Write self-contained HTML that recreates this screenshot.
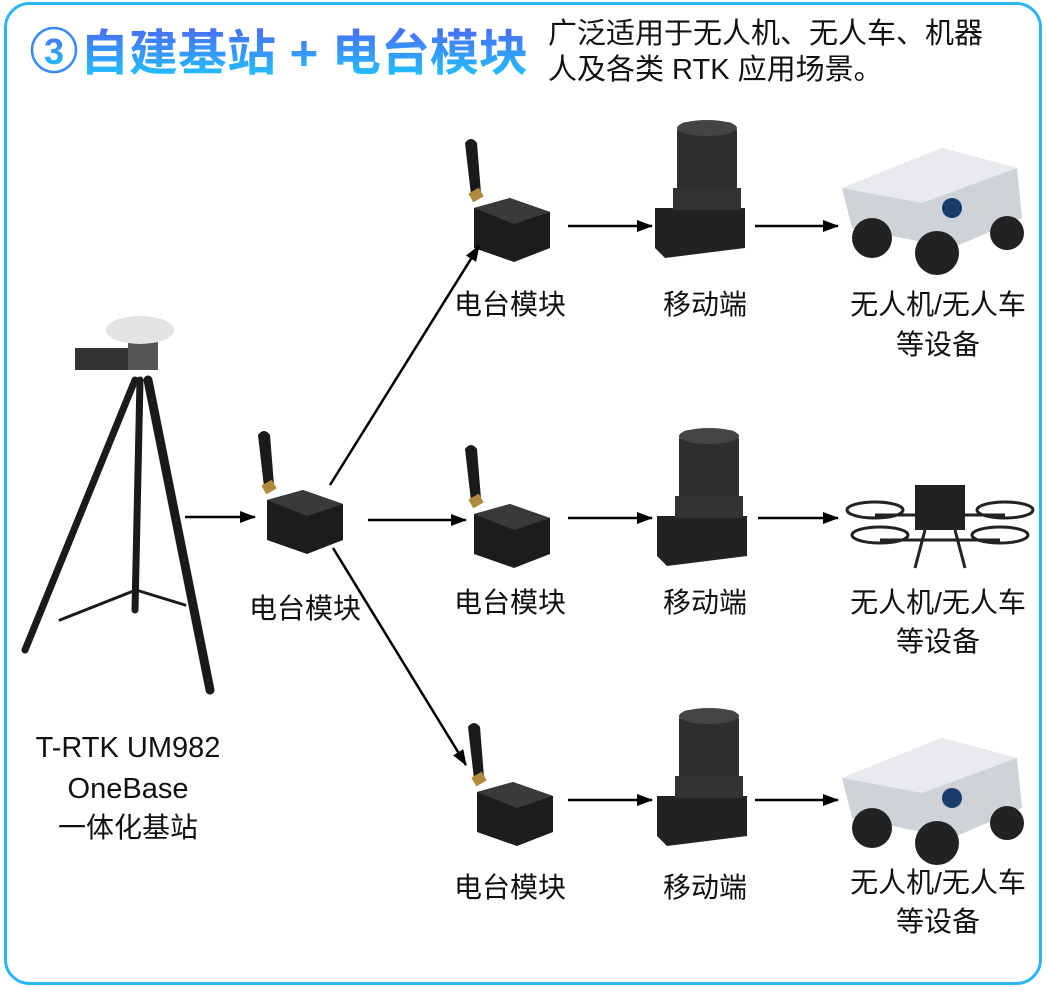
<!DOCTYPE html>
<html><head><meta charset="utf-8"><style>
html,body{margin:0;padding:0;background:#fff;}
svg{display:block;font-family:"Liberation Sans","Noto Sans CJK SC",sans-serif;}
</style></head><body>
<svg width="1046" height="987" viewBox="0 0 1046 987" xmlns="http://www.w3.org/2000/svg">
<defs>
<linearGradient id="tg" x1="0" y1="0" x2="0" y2="1"><stop offset="0" stop-color="#4a6cf7"/><stop offset="1" stop-color="#1ec8ff"/></linearGradient>
<marker id="a" markerWidth="16" markerHeight="12" refX="15" refY="6" orient="auto" markerUnits="userSpaceOnUse"><path d="M0,0 L16,6 L0,12 Z" fill="#000"/></marker>
<g id="radio">
  <path d="M-5,-55 q6,-8 12,0 l4,50 -10,2 z" fill="#1a1a1a"/>
  <rect x="0" y="-8" width="12" height="10" fill="#b08a3c" transform="rotate(-30 6 -3)"/>
  <path d="M4,10 L40,0 L80,14 L80,50 L44,64 L4,50 Z" fill="#1c1c1c"/>
  <path d="M4,10 L40,0 L80,14 L44,26 Z" fill="#3a3a3a"/>
</g>
<g id="mobile">
  <rect x="22" y="0" width="60" height="90" rx="10" fill="#2e2e2e"/>
  <ellipse cx="52" cy="6" rx="30" ry="8" fill="#444"/>
  <path d="M0,86 L90,86 L90,126 L10,136 L0,126 Z" fill="#222"/>
  <rect x="18" y="66" width="68" height="22" fill="#333"/>
</g>
<g id="robot">
  <path d="M0,40 L100,0 L175,20 L180,70 L110,100 L10,80 Z" fill="#cfd3d8"/>
  <path d="M0,40 L100,0 L175,20 L80,55 Z" fill="#e8eaed"/>
  <circle cx="30" cy="90" r="20" fill="#222"/><circle cx="95" cy="105" r="22" fill="#222"/>
  <circle cx="165" cy="85" r="17" fill="#222"/><circle cx="110" cy="60" r="10" fill="#1a3a6a"/>
</g>
</defs>
<rect x="5.5" y="3.5" width="1035" height="980" rx="24" fill="#fff" stroke="#2bb6f3" stroke-width="3"/>
<circle cx="54" cy="50" r="22" fill="none" stroke="#3a8cf5" stroke-width="2.5"/>
<text x="54" y="64" font-size="36" font-weight="bold" text-anchor="middle" fill="url(#tg)">3</text>
<text x="80" y="70" font-size="49" font-weight="bold" fill="url(#tg)">自建基站 + 电台模块</text>
<text x="548" y="43" font-size="29" fill="#111">广泛适用于无人机、无人车、机器</text>
<text x="548" y="79" font-size="29" fill="#111">人及各类 RTK 应用场景。</text>

<g stroke="#1a1a1a" fill="none" stroke-linecap="round">
  <line x1="135" y1="380" x2="25" y2="650" stroke-width="7"/>
  <line x1="140" y1="380" x2="135" y2="610" stroke-width="7"/>
  <line x1="148" y1="380" x2="210" y2="690" stroke-width="9"/>
  <line x1="136" y1="590" x2="60" y2="620" stroke-width="3"/>
  <line x1="136" y1="590" x2="185" y2="605" stroke-width="3"/>
</g>
<rect x="75" y="348" width="80" height="22" fill="#333"/>
<rect x="128" y="330" width="30" height="40" fill="#555"/>
<ellipse cx="140" cy="330" rx="34" ry="14" fill="#e3e3e3"/>

<use href="#radio" x="263" y="490"/>
<use href="#radio" x="470" y="198"/>
<use href="#radio" x="470" y="504"/>
<use href="#radio" x="473" y="782"/>
<use href="#mobile" x="655" y="122"/>
<use href="#mobile" x="657" y="430"/>
<use href="#mobile" x="657" y="710"/>
<use href="#robot" x="842" y="148"/>
<use href="#robot" x="842" y="738"/>
<g fill="none" stroke="#222" stroke-width="3">
  <ellipse cx="875" cy="510" rx="28" ry="8"/><ellipse cx="1005" cy="510" rx="28" ry="8"/>
  <ellipse cx="880" cy="535" rx="28" ry="8"/><ellipse cx="1000" cy="535" rx="28" ry="8"/>
  <line x1="875" y1="515" x2="1005" y2="515"/><line x1="880" y1="540" x2="1000" y2="540"/>
</g>
<rect x="915" y="485" width="50" height="45" fill="#222"/>
<line x1="925" y1="530" x2="915" y2="568" stroke="#222" stroke-width="3"/><line x1="955" y1="530" x2="965" y2="568" stroke="#222" stroke-width="3"/>

<g stroke="#000" stroke-width="2.5" marker-end="url(#a)">
<line x1="185" y1="517" x2="255" y2="517"/>
<line x1="330" y1="485" x2="479" y2="246"/>
<line x1="368" y1="520" x2="466" y2="520"/>
<line x1="333" y1="548" x2="466" y2="765"/>
<line x1="568" y1="226" x2="652" y2="226"/>
<line x1="755" y1="226" x2="838" y2="226"/>
<line x1="568" y1="518" x2="652" y2="518"/>
<line x1="758" y1="518" x2="838" y2="518"/>
<line x1="568" y1="800" x2="652" y2="800"/>
<line x1="755" y1="800" x2="838" y2="800"/>
</g>

<g font-size="28" fill="#111" text-anchor="middle">
<text x="510" y="314">电台模块</text><text x="705" y="314">移动端</text>
<text x="938" y="314">无人机/无人车</text><text x="938" y="354">等设备</text>
<text x="305" y="618">电台模块</text>
<text x="510" y="612">电台模块</text><text x="705" y="612">移动端</text>
<text x="938" y="612">无人机/无人车</text><text x="938" y="651">等设备</text>
<text x="510" y="897">电台模块</text><text x="705" y="897">移动端</text>
<text x="938" y="892">无人机/无人车</text><text x="938" y="931">等设备</text>
<text x="128" y="757" font-size="29">T-RTK UM982</text><text x="128" y="798" font-size="29">OneBase</text><text x="128" y="837">一体化基站</text>
</g>
</svg>
</body></html>
